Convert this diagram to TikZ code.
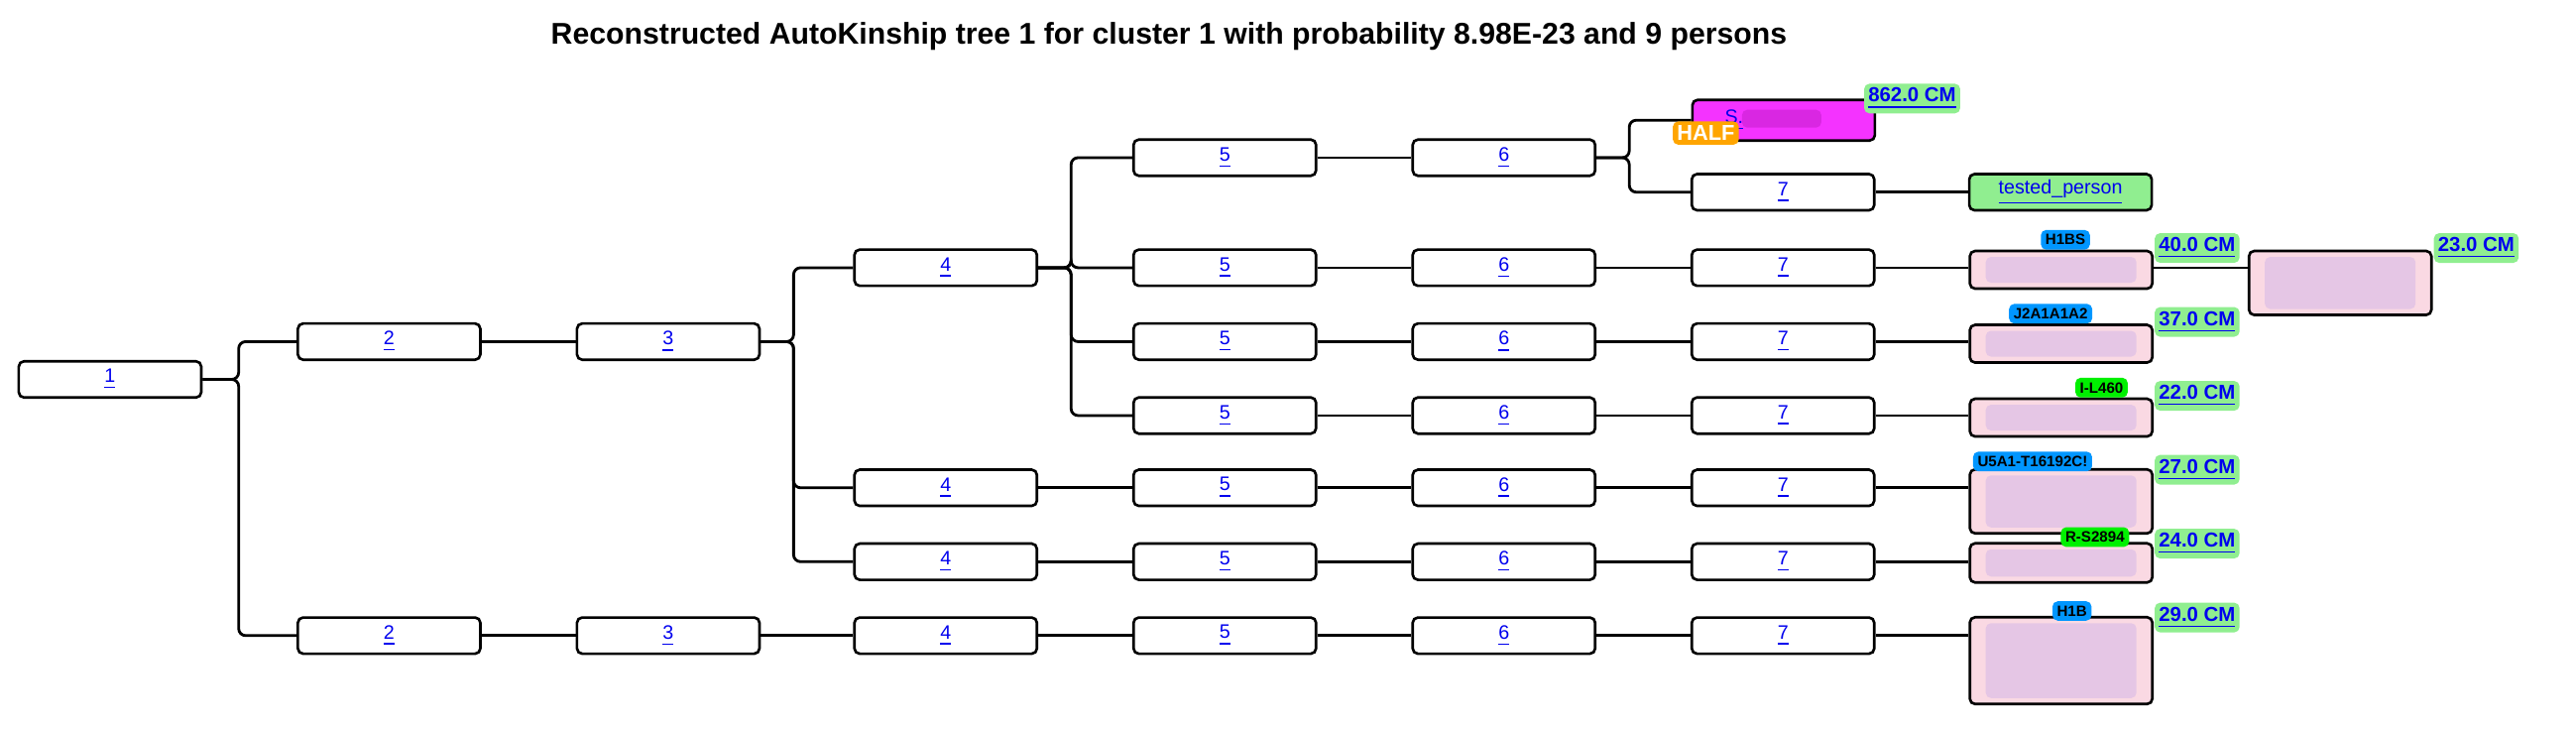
\documentclass[tikz,border=0pt]{standalone}
\usepackage{fontspec}
\setmainfont{Liberation Sans}
\begin{document}
\begin{tikzpicture}[x=0.01656cm,y=-0.01656cm,
  box/.style={draw=black,line width=0.75pt,rounded corners=1.5pt,fill=white,minimum width=1.84cm,minimum height=0.365cm,inner sep=0pt,font=\fontsize{5.6}{6}\selectfont,text=linkblue},
  pink/.style={box,fill=pinkc,anchor=north west,path picture={\fill[blurc,opacity=0.7] ([shift={(0.16cm,-0.06cm)}]path picture bounding box.north west) rectangle ([shift={(-0.16cm,0.06cm)}]path picture bounding box.south east);}},
  conn/.style={line width=0.8pt,rounded corners=2pt},
  cmlab/.style={fill=lgreen,rounded corners=1.5pt,inner sep=1.2pt,anchor=west,text=linkblue,font=\bfseries\fontsize{5.8}{6}\selectfont},
  badge/.style={rounded corners=1.5pt,inner sep=1.3pt,font=\bfseries\fontsize{4.3}{5}\selectfont,text=black},
]
\definecolor{linkblue}{HTML}{0000EE}
\definecolor{pinkc}{HTML}{FAD9E3}
\definecolor{blurc}{HTML}{DDBFE6}
\definecolor{lgreen}{HTML}{90EE90}
\definecolor{bblue}{HTML}{0096FF}
\definecolor{bgreen}{HTML}{00F000}
\definecolor{magc}{HTML}{F433FF}
\definecolor{orangec}{HTML}{FFA500}
\useasboundingbox (0,0) rectangle (1569,445);
\node[font=\bfseries\fontsize{8.6}{10}\selectfont] (title) at (712,22) {Reconstructed AutoKinship tree 1 for cluster 1 with probability 8.98E-23 and 9 persons};
% column boxes
\node[box] (n1) at (67,231) {\underline{1}};
\node[box] (n2a) at (237,208) {\underline{2}};
\node[box] (n3a) at (407,208) {\underline{3}};
\node[box] (n4a) at (576,163) {\underline{4}};
\node[box] (n4b) at (576,297) {\underline{4}};
\node[box] (n4c) at (576,342) {\underline{4}};
\node[box] (n2b) at (237,387) {\underline{2}};
\node[box] (n3b) at (407,387) {\underline{3}};
\node[box] (n4d) at (576,387) {\underline{4}};
\foreach \r/\y in {a/96,b/163,c/208,d/253,e/297,f/342,g/387}{
  \node[box] (n5\r) at (746,\y) {\underline{5}};
  \node[box] (n6\r) at (916,\y) {\underline{6}};
}
\foreach \r/\y in {a/117,b/163,c/208,d/253,e/297,f/342,g/387}{
  \node[box] (n7\r) at (1086,\y) {\underline{7}};
}
\node[box,fill=magc,anchor=north west,minimum height=0.41cm,path picture={\fill[violet!45!magc,opacity=0.5] ([shift={(0.5cm,-0.1cm)}]path picture bounding box.north west) rectangle ([shift={(1.3cm,-0.28cm)}]path picture bounding box.north west);}] (mag) at (1030,60) {\hspace{-1.0cm}\underline{S.}};
\node[box,fill=lgreen] (tp) at (1255,117) {\underline{tested\_person}};
\node[pink,minimum height=0.38cm] (p3) at (1199,152) {};
\node[pink,minimum height=0.38cm] (p4) at (1199,197) {};
\node[pink,minimum height=0.38cm] (p5) at (1199,242) {};
\node[pink,minimum height=0.645cm] (p6) at (1199,285) {};
\node[pink,minimum height=0.395cm] (p7) at (1199,330) {};
\node[pink,minimum height=0.875cm] (p8) at (1199,375) {};
\node[pink,minimum height=0.645cm] (p9) at (1369,152) {};
% connectors
\draw[conn] (n1.east) -- ++(22,0) |- (n2a.west);
\draw[conn] (n1.east) -- ++(22,0) |- (n2b.west);
\draw[conn] (n2a) -- (n3a);
\draw[conn] (n3a.east) -- ++(20,0) |- (n4a.west);
\draw[conn] (n3a.east) -- ++(20,0) |- (n4b.west);
\draw[conn] (n3a.east) -- ++(20,0) |- (n4c.west);
\foreach \r in {a,b,c,d}{\draw[conn] (n4a.east) -- ++(20,0) |- (n5\r.west);}
\draw[conn] (n4b) -- (n5e);
\draw[conn] (n4c) -- (n5f);
\draw[conn] (n2b) -- (n3b);
\draw[conn] (n3b) -- (n4d);
\draw[conn] (n4d) -- (n5g);
\foreach \r in {a,b,c,d,e,f,g}{\draw[conn] (n5\r) -- (n6\r);}
\foreach \r in {b,c,d,e,f,g}{\draw[conn] (n6\r) -- (n7\r);}
\draw[conn] (n6a.east) -- ++(20,0) |- (mag.west);
\draw[conn] (n6a.east) -- ++(20,0) |- (n7a.west);
\draw[conn] (n7a) -- (tp);
\draw[conn] (n7b.east) -- (n7b.east -| p3.west);
\draw[conn] (n7c.east) -- (n7c.east -| p4.west);
\draw[conn] (n7d.east) -- (n7d.east -| p5.west);
\draw[conn] (n7e.east) -- (n7e.east -| p6.west);
\draw[conn] (n7f.east) -- (n7f.east -| p7.west);
\draw[conn] (n7g.east) -- (n7g.east -| p8.west);
\draw[conn] (n7b.east -| p3.east) -- (n7b.east -| p9.west);
% labels
\node[fill=orangec,rounded corners=1.5pt,inner sep=1.2pt,text=white,font=\bfseries\fontsize{6.2}{7}\selectfont] (half) at (1039,81) {HALF};
\node[cmlab] (c1) at (1135,60) {\underline{862.0 CM}};
\node[cmlab] (c2) at (1312,151) {\underline{40.0 CM}};
\node[cmlab] (c3) at (1482,151) {\underline{23.0 CM}};
\node[cmlab] (c4) at (1312,196) {\underline{37.0 CM}};
\node[cmlab] (c5) at (1312,241) {\underline{22.0 CM}};
\node[cmlab] (c6) at (1312,286) {\underline{27.0 CM}};
\node[cmlab] (c7) at (1312,331) {\underline{24.0 CM}};
\node[cmlab] (c8) at (1312,376) {\underline{29.0 CM}};
\node[badge,fill=bblue] (b1) at (1258,146) {H1BS};
\node[badge,fill=bblue] (b2) at (1249,191) {J2A1A1A2};
\node[badge,fill=bgreen] (b3) at (1280,236) {I-L460};
\node[badge,fill=bblue] (b4) at (1238,281) {U5A1-T16192C!};
\node[badge,fill=bgreen] (b5) at (1276,327) {R-S2894};
\node[badge,fill=bblue] (b6) at (1262,372) {H1B};
\end{tikzpicture}
\end{document}
